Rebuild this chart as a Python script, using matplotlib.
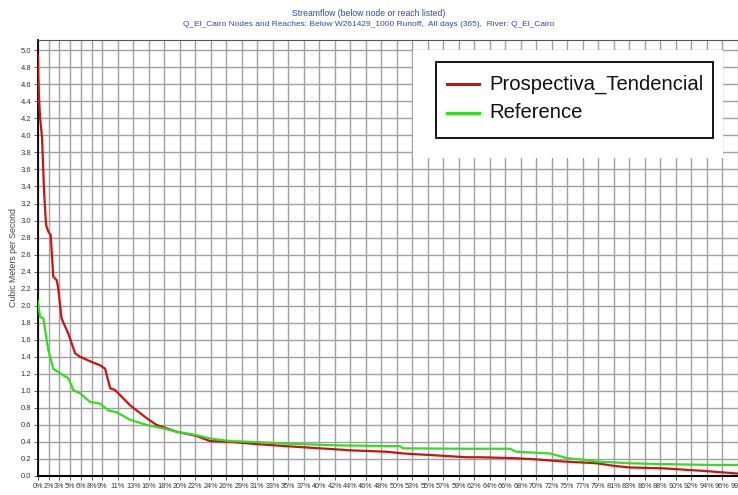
import numpy as np
import matplotlib
matplotlib.use("Agg")
import matplotlib.pyplot as plt
from matplotlib.patches import Rectangle
from matplotlib.lines import Line2D

# exceedance position (x, % of the axis) and flow in m3/s (y)
tend_x = [0, 0.04, 0.14, 0.28, 0.56, 0.84, 1.12, 1.44, 1.78, 2.14, 2.62, 2.84, 3.3, 4.25,
          5.2, 5.9, 7.5, 8.7, 9.4, 10.1, 10.8, 12.9, 15.2, 16.6, 19.4, 22.2, 24.1, 26.9,
          30.6, 34.8, 39.5, 44.2, 48.8, 51.1, 57.2, 60.0, 62.0, 66.6, 69.8, 73.6, 78.2,
          80.6, 82.9, 87.6, 93.2, 97.8, 100]
tend_y = [4.94, 4.73, 4.45, 4.22, 3.98, 3.36, 2.95, 2.87, 2.83, 2.34, 2.30, 2.20, 1.85, 1.67,
          1.44, 1.40, 1.34, 1.30, 1.26, 1.03, 1.01, 0.83, 0.68, 0.60, 0.52, 0.47, 0.41, 0.40,
          0.375, 0.35, 0.325, 0.30, 0.285, 0.265, 0.235, 0.22, 0.22, 0.21, 0.195, 0.17, 0.15,
          0.12, 0.10, 0.09, 0.06, 0.03, 0.02]

ref_x = [0, 0.28, 0.75, 1.0, 1.44, 2.14, 2.84, 3.8, 4.25, 4.95, 5.9, 7.3, 8.7, 9.85, 11.0,
         12.9, 15.2, 17.5, 19.4, 22.2, 24.1, 26.9, 30.2, 34.8, 41.8, 50.7, 51.1, 59.5, 66.1,
         67.0, 71.7, 74.1, 76.4, 78.2, 82.9, 87.6, 94.1, 100]
ref_y = [2.05, 1.87, 1.85, 1.71, 1.48, 1.26, 1.22, 1.17, 1.15, 1.01, 0.97, 0.87, 0.85, 0.77, 0.75,
         0.66, 0.60, 0.56, 0.52, 0.48, 0.44, 0.41, 0.40, 0.38, 0.36, 0.35, 0.325, 0.32, 0.32,
         0.285, 0.265, 0.21, 0.19, 0.17, 0.15, 0.14, 0.13, 0.13]

pct_labels = [0, 2, 3, 5, 6, 8, 9, 11, 13, 16, 18, 20, 22, 24, 26, 29, 31, 33, 35, 37, 40, 42,
              44, 46, 48, 50, 53, 55, 57, 59, 62, 64, 66, 68, 70, 72, 75, 77, 79, 81, 83, 86,
              88, 90, 92, 94, 96, 99]
y_ticks = np.round(np.arange(0, 5.01, 0.2), 1)

title_1 = "Streamflow (below node or reach listed)"
title_2 = "Q_El_Cairo Nodes and Reaches: Below W261429_1000 Runoff,  All days (365),  River: Q_El_Cairo"
series_names = ["Prospectiva_Tendencial", "Reference"]
red = "#C81414"
green = "#33DD22"

# the chart's category labels: tighter spacing for the first few, then regular
tick_pos = np.concatenate([np.arange(7) * 1.5, 9.0 + np.arange(1, 42) * 2.17])

plt.rcParams['font.family'] = ['Liberation Sans', 'DejaVu Sans']

fig = plt.figure(figsize=(7.38, 4.95), dpi=100)
ax = fig.add_axes([38 / 738, 19 / 495, 714 / 738, 436 / 495])

ax.plot(tend_x, tend_y, color=red, lw=1.6, zorder=3)
ax.plot(ref_x, ref_y, color=green, lw=1.6, zorder=3)

ax.set_xlim(0, 100)
ax.set_ylim(0, 5.12)
ax.set_xticks(tick_pos)
ax.set_xticklabels([f"{p}%" for p in pct_labels], fontsize=5.2, color="#333333")
ax.set_yticks(y_ticks)
ax.set_yticklabels([f"{v:.1f}" for v in y_ticks], fontsize=5.5, color="#333333")
ax.tick_params(axis='both', length=3, width=0.6, pad=2, color="#444444")
ax.grid(True, color="#A0A0A0", lw=1.0, zorder=0)
ax.set_axisbelow(True)
for side in ['top', 'right']:
    ax.spines[side].set_color("#555555")
    ax.spines[side].set_linewidth(0.8)
ax.spines['left'].set_linewidth(1.3)
ax.spines['bottom'].set_linewidth(1.5)
ax.spines['left'].set_color("black")
ax.spines['bottom'].set_color("black")

ax.set_ylabel("Cubic Meters per Second", fontsize=6.3, color="#444444", labelpad=2)

fig.text(0.5, 1 - 13 / 495, title_1, ha='center', va='center', fontsize=6.2, color="#2B4BA8")
fig.text(0.5, 1 - 25 / 495, title_2, ha='center', va='center', fontsize=6, color="#2B4BA8")

# legend drawn in figure pixels
def fx(px):
    return px / 738

def fy(py):
    return 1 - py / 495

fig.patches.append(Rectangle((fx(413), fy(158)), fx(723) - fx(413), fy(50) - fy(158),
                             transform=fig.transFigure, facecolor="white", edgecolor="none",
                             zorder=5))
fig.patches.append(Rectangle((fx(436), fy(138)), fx(713) - fx(436), fy(62) - fy(138),
                             transform=fig.transFigure, facecolor="white", edgecolor="black",
                             lw=1.3, zorder=6))
for name, col, py in zip(series_names, [red, green], [84, 113]):
    fig.lines.append(Line2D([fx(447), fx(479)], [fy(py), fy(py)], transform=fig.transFigure,
                            color=col, lw=2.2, zorder=7))
    fig.text(fx(489), fy(py), name, ha='left', va='center', fontsize=14.6, color="#111111",
             zorder=8)

fig.savefig("out.png", dpi=100)
